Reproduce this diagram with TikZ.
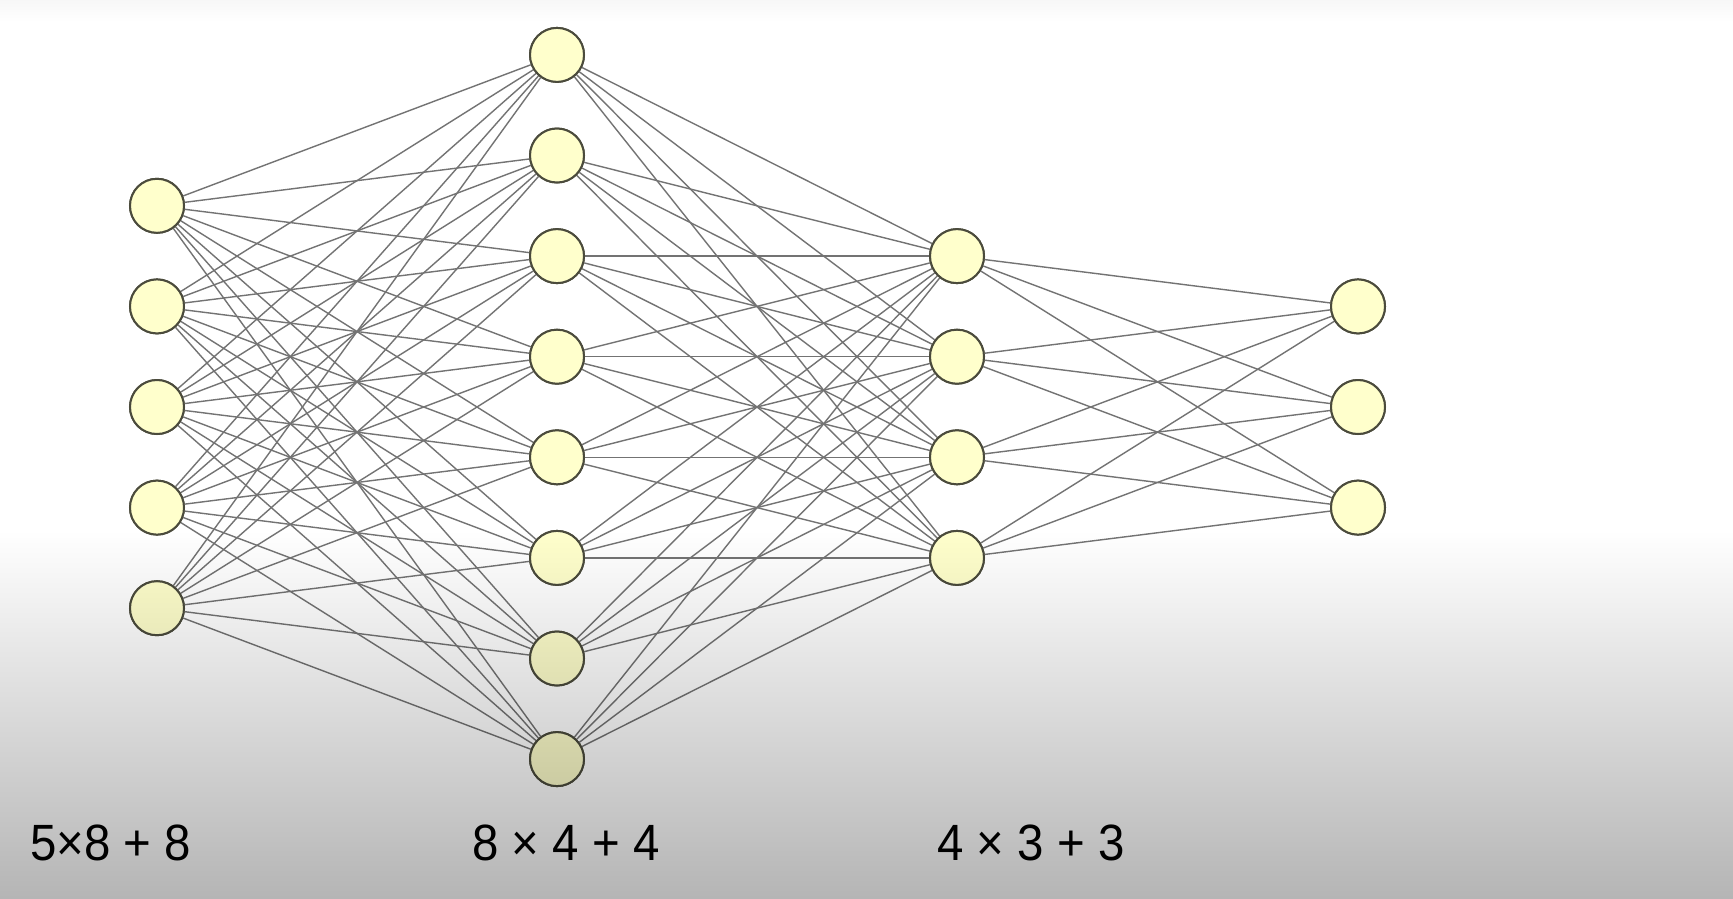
\documentclass[tikz,border=0pt]{standalone}
\usepackage{fontspec}
\setmainfont{Liberation Sans}[FakeStretch=0.93]
\usepackage{tikz}
\usetikzlibrary{calc,positioning}
\definecolor{neuronfill}{RGB}{255,255,204}
\definecolor{neurondraw}{RGB}{75,75,60}
\definecolor{synapse}{RGB}{115,115,115}
\tikzset{
  neuron/.style={circle, draw=neurondraw, fill=neuronfill, line width=2pt,
    minimum size=54pt, inner sep=0pt},
  synapse/.style={draw=synapse, line width=1.4pt},
  count/.style={anchor=base west, inner sep=0pt, font=\fontsize{51}{60}\selectfont}
}
\begin{document}
\begin{tikzpicture}[x=1pt,y=-1pt]
      % Canvas
      \useasboundingbox (0,0) rectangle (1733,898);
      \fill[white] (0,0) rectangle (1733,898);
      % Input layer
      \foreach \i in {1,...,5}
        \node[neuron] (I\i) at (157,{407+(\i-3)*100.6}) {};
      % First hidden layer
      \foreach \i in {1,...,8}
        \node[neuron] (H\i) at (557,{407+(\i-4.5)*100.6}) {};
      % Second hidden layer
      \foreach \i in {1,...,4}
        \node[neuron] (G\i) at (957,{407+(\i-2.5)*100.6}) {};
      % Output layer
      \foreach \i in {1,...,3}
        \node[neuron] (O\i) at (1358,{407+(\i-2)*100.6}) {};
      % Connections
      \foreach \i in {1,...,5}
        \foreach \j in {1,...,8}
          \draw[synapse] (I\i) -- (H\j);
      \foreach \i in {1,...,8}
        \foreach \j in {1,...,4}
          \draw[synapse] (H\i) -- (G\j);
      \foreach \i in {1,...,4}
        \foreach \j in {1,...,3}
          \draw[synapse] (G\i) -- (O\j);
      % Redraw neurons on top
      \foreach \i in {1,...,5}
        \node[neuron] at (I\i) {};
      \foreach \i in {1,...,8}
        \node[neuron] at (H\i) {};
      \foreach \i in {1,...,4}
        \node[neuron] at (G\i) {};
      \foreach \i in {1,...,3}
        \node[neuron] at (O\i) {};
      % Grey shading over the lower part
      \begin{scope}[blend mode=multiply]
        \shade[top color=white, bottom color=black!29] (0,530) rectangle (1733,898);
        \shade[top color=black!3, bottom color=white] (0,0) rectangle (1733,22);
      \end{scope}
      % Parameter counts
      \node[count] (c1) at (30,860) {5×8 + 8};
      \node[count] (c2) at (472,860) {8 × 4 + 4};
      \node[count] (c3) at (937,860) {4 × 3 + 3};
\end{tikzpicture}
\end{document}
